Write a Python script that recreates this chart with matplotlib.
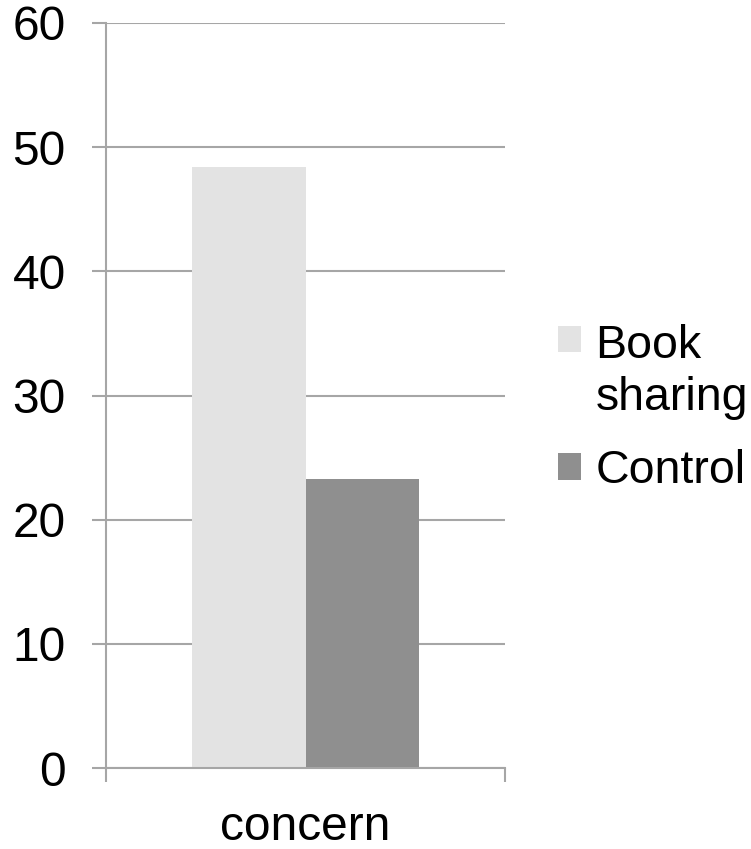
import matplotlib.pyplot as plt
from matplotlib.legend_handler import HandlerPatch
from matplotlib.patches import Rectangle

plt.rcParams['font.family'] = ['Liberation Sans', 'DejaVu Sans']

# Donnees
categorie = "concern"
groupes = ["Book\nsharing", "Control"]
valeurs = [48.4, 23.3]
couleurs = ["#e3e3e3", "#8f8f8f"]
graduations = [0, 10, 20, 30, 40, 50, 60]

gris = "#a6a6a6"
taille = 34.5


class CarreDecale(HandlerPatch):
    # carre de legende decale verticalement (en points)
    def __init__(self, dy=0, **kw):
        super().__init__(**kw)
        self.dy = dy

    def create_artists(self, legend, orig_handle, xdescent, ydescent,
                       width, height, fontsize, trans):
        p = Rectangle((-xdescent, -ydescent + self.dy), width, height,
                      facecolor=orig_handle.get_facecolor(), edgecolor='none')
        p.set_transform(trans)
        return [p]


fig = plt.figure(figsize=(7.51, 8.49), dpi=100)
ax = fig.add_axes([106/751, 1 - 768/849, 399/751, 745/849])

largeur = 0.284
positions = [-largeur/2, largeur/2]
barres = []
for x, v, c in zip(positions, valeurs, couleurs):
    barres.append(ax.bar(x, v, width=largeur, color=c, zorder=2)[0])

ax.set_xlim(-0.5, 0.5)
ax.set_ylim(0, 60)
ax.set_yticks(graduations)
ax.yaxis.grid(True, color=gris, linewidth=1.5, zorder=0)
ax.set_axisbelow(True)

ax.set_xticks([0])
ax.set_xticklabels([categorie])
ax.set_xticks([-0.5, 0.5], minor=True)
ax.tick_params(axis='x', which='major', length=0, pad=27, labelsize=taille)
ax.tick_params(axis='x', which='minor', length=10, width=1.5, color=gris, direction='out')
ax.tick_params(axis='y', length=10, width=1.5, color=gris, pad=19, labelsize=taille)

for s in ['top', 'right']:
    ax.spines[s].set_visible(False)
for s in ['left', 'bottom']:
    ax.spines[s].set_color(gris)
    ax.spines[s].set_linewidth(1.5)

leg = ax.legend(barres, groupes, loc='upper left',
                bbox_to_anchor=(558/751, 1 - 324/849), bbox_transform=fig.transFigure,
                frameon=False, fontsize=33.5, borderpad=0, borderaxespad=0,
                handlelength=0.5, handleheight=0.5, handletextpad=0.3,
                labelspacing=0.62,
                handler_map={barres[0]: CarreDecale(dy=24), barres[1]: CarreDecale(dy=0)})
for t in leg.get_texts():
    t.set_linespacing(1.24)

fig.savefig("out.png", dpi=100)
